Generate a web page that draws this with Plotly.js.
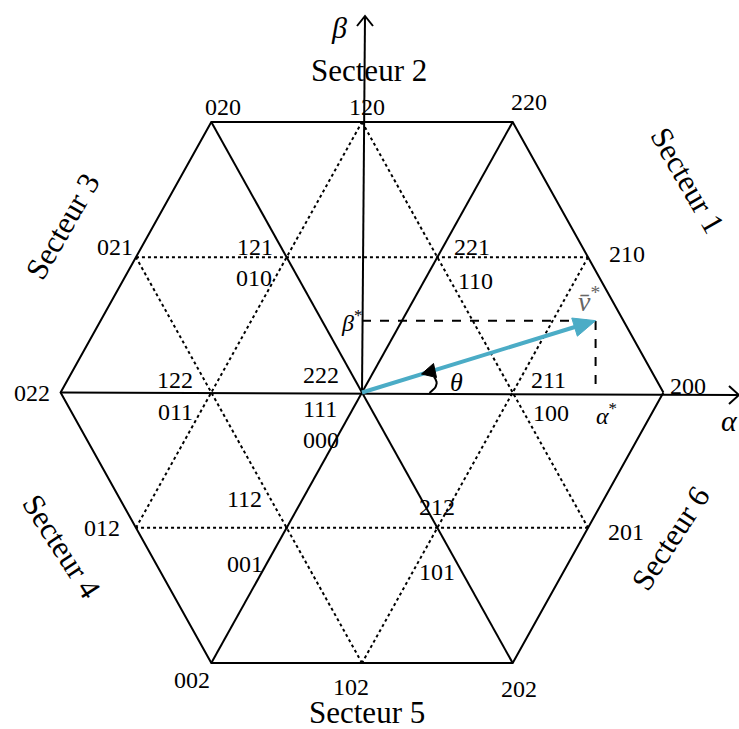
<!DOCTYPE html>
<html><head><meta charset="utf-8">
<script src="https://cdn.plot.ly/plotly-3.0.1.min.js"></script>
<style>html,body{margin:0;padding:0;background:#fff}#chart{width:739px;height:729px}</style>
</head><body><div id="chart"></div>
<script>
// ---------------- data ----------------
const largeLabels = ['200','220','020','022','002','202'];
const largeAngles = [0,60,120,180,240,300];
const largeMag = 2;
const mediumLabels = ['210','120','021','012','102','201'];
const mediumAngles = [30,90,150,210,270,330];
const mediumMag = Math.sqrt(3);
const smallOuterLabels = ['211','221','121','122','112','212'];
const smallInnerLabels = ['100','110','010','011','001','101'];
const smallAngles = [0,60,120,180,240,300];
const smallMag = 1;
const zeroLabels = ['222','111','000'];
const sectorLabels = ['Secteur 1','Secteur 2','Secteur 3','Secteur 4','Secteur 5','Secteur 6'];
const alphaStar = 1.55;
const betaStar = 0.46;

// ---------------- layout / style (pixels) ----------------
const W=739,H=729,CX=362,CY=392.5,SX=150.7,SY=156.2;
const largeOffsets = [[25,-7],[16,-20],[12,-15],[-29,0],[-19,17],[6,26]];
const mediumOffsets = [[39,-3],[5,-15],[-21,-10],[-34,0],[-11,24],[38,4]];
const smallOuterOffsets = [[36,-13],[35,-10],[-32,-10],[-36,-13],[-42,-29],[0,-21]];
const smallInnerOffsets = [[38,20],[38,24],[-33,21],[-36,19],[-42,36],[0,44]];
const zeroOffsets = [[-41,-18],[-42,16],[-41,47]];
const sectorPos = [[688,180,60],[369,70,0],[62,226,-60],[62,546,57],[367,712,0],[670,538,-57]];
const FONT = 'Liberation Serif, Times New Roman, serif';
const VCOL = '#4bacc6';

function px2x(p){return (p-CX)/SX}
function py2y(p){return (CY-p)/SY}
function x2px(x){return CX + x*SX}
function y2py(y){return CY - y*SY}
function pt(mag,deg){const a=deg*Math.PI/180;return [mag*Math.cos(a), mag*Math.sin(a)];}

const traces = [];
function line(pts, color, width, dash){
  traces.push({type:'scatter',mode:'lines',x:pts.map(p=>p===null?null:p[0]),y:pts.map(p=>p===null?null:p[1]),
    line:{color:color,width:width,dash:dash||'solid'},hoverinfo:'skip',showlegend:false});
}
function poly(pts, color){
  traces.push({type:'scatter',mode:'lines',x:pts.map(p=>p[0]),y:pts.map(p=>p[1]),fill:'toself',fillcolor:color,
    line:{color:color,width:1},hoverinfo:'skip',showlegend:false});
}
function pxPt(px,py){return [px2x(px),py2y(py)];}

// dotted inner lines (medium vectors 120 deg apart)
const dotted = [];
for(let i=0;i<6;i++){
  dotted.push(pt(mediumMag, mediumAngles[i]));
  dotted.push(pt(mediumMag, mediumAngles[(i+4)%6]));
  dotted.push(null);
}
line(dotted,'#000',2,'dot');

// hexagon
const hex = largeAngles.map(a=>pt(largeMag,a)); hex.push(hex[0]);
line(hex,'#000',2);
// diagonals through origin
line([pt(largeMag,120),pt(largeMag,300),null,pt(largeMag,60),pt(largeMag,240)],'#000',2);
// alpha axis
const aTip = pxPt(739,395);
line([pt(largeMag,180),aTip],'#000',2);
line([pxPt(729,386),aTip,pxPt(729,404)],'#000',2);
// beta axis
const bTip = pxPt(365,16);
line([[0,0],bTip],'#000',2);
line([pxPt(357,26),bTip,pxPt(373,26)],'#000',2);

// dashed projections
line([[0,betaStar],[alphaStar,betaStar],[alphaStar,0]],'#000',2,'dash');

// reference vector
(function(){
  const tx=x2px(alphaStar), ty=y2py(betaStar);
  const dx=tx-CX, dy=ty-CY, L=Math.hypot(dx,dy), ux=dx/L, uy=dy/L;
  const hl=22, hw=9.5;
  const bx=tx-hl*ux, by=ty-hl*uy;
  line([[0,0],pxPt(bx+2*ux,by+2*uy)],VCOL,4);
  poly([pxPt(tx,ty),pxPt(bx-hw*uy,by+hw*ux),pxPt(bx+hw*uy,by-hw*ux),pxPt(tx,ty)],VCOL);
})();

// theta arc
(function(){
  const P0=[429.5,393],P1=[441,385],P2=[434,377];
  const arc=[];
  for(let t=0;t<=1.0001;t+=0.1){
    const a=(1-t)*(1-t),b=2*t*(1-t),c=t*t;
    arc.push(pxPt(a*P0[0]+b*P1[0]+c*P2[0], a*P0[1]+b*P1[1]+c*P2[1]));
  }
  line(arc,'#000',2);
  poly([pxPt(421.5,374),pxPt(433.5,363.5),pxPt(436.5,377.5),pxPt(421.5,374)],'#000');
})();

// ---------------- annotations ----------------
const ann = [];
function lab(x,y,dx,dy,text,size,extra){
  ann.push(Object.assign({x:x,y:y,xref:'x',yref:'y',xshift:dx,yshift:-dy,text:text,showarrow:false,
    xanchor:'center',yanchor:'middle',font:{family:FONT,size:size,color:'#000'}},extra||{}));
}
largeLabels.forEach((s,i)=>{const p=pt(largeMag,largeAngles[i]);lab(p[0],p[1],largeOffsets[i][0],largeOffsets[i][1],s,24);});
mediumLabels.forEach((s,i)=>{const p=pt(mediumMag,mediumAngles[i]);lab(p[0],p[1],mediumOffsets[i][0],mediumOffsets[i][1],s,24);});
smallOuterLabels.forEach((s,i)=>{const p=pt(smallMag,smallAngles[i]);lab(p[0],p[1],smallOuterOffsets[i][0],smallOuterOffsets[i][1],s,24);});
smallInnerLabels.forEach((s,i)=>{const p=pt(smallMag,smallAngles[i]);lab(p[0],p[1],smallInnerOffsets[i][0],smallInnerOffsets[i][1],s,24);});
zeroLabels.forEach((s,i)=>{lab(0,0,zeroOffsets[i][0],zeroOffsets[i][1],s,24);});
sectorLabels.forEach((s,i)=>{const q=sectorPos[i];lab(px2x(q[0]),py2y(q[1]),0,0,s,31,{textangle:q[2]});});

lab(px2x(339),py2y(27),0,0,'<i>β</i>',30);
lab(px2x(729),py2y(420),0,0,'<i>α</i>',30);
lab(0,betaStar,-11,0,'<i>β</i><sup>*</sup>',24);
lab(alphaStar,0,11,21,'<i>α</i><sup>*</sup>',24);
lab(px2x(456),py2y(382),0,0,'<i>θ</i>',26);
lab(alphaStar,betaStar,-7,-21,'<i>v̄</i><sup>*</sup>',28,{font:{family:FONT,size:28,color:'#666'}});

const layout = {
  width:W,height:H,margin:{l:0,r:0,t:0,b:0},paper_bgcolor:'#fff',plot_bgcolor:'#fff',
  xaxis:{range:[px2x(0),px2x(W)],visible:false,fixedrange:true},
  yaxis:{range:[py2y(H),py2y(0)],visible:false,fixedrange:true},
  showlegend:false,annotations:ann
};
Plotly.newPlot('chart',traces,layout,{staticPlot:true});
</script></body></html>
